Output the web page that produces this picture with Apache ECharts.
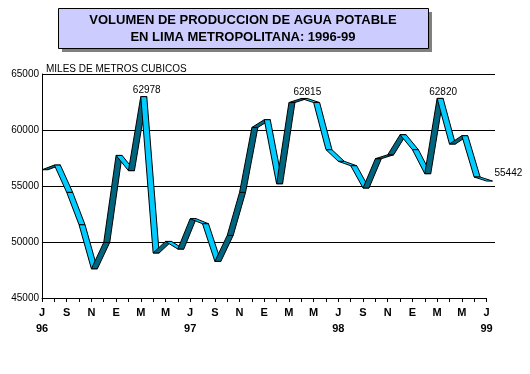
<!DOCTYPE html>
<html>
<head>
<meta charset="utf-8">
<script src="https://cdn.jsdelivr.net/npm/echarts@6/dist/echarts.min.js"></script>
<style>
  html, body { margin: 0; padding: 0; background: #fff; }
  #chart { width: 530px; height: 374px; }
</style>
</head>
<body>
<div id="chart"></div>
<script>
// ---- data ----
const months = ['J','A','S','O','N','D','E','F','M','A','M','J',
                'J','A','S','O','N','D','E','F','M','A','M','J',
                'J','A','S','O','N','D','E','F','M','A','M','J','J'];
const yearLabels = ['96','97','98','99'];
const values = [56450, 56870, 54430, 51540, 47610, 49960, 57730, 56370, 62978, 49020,
                50050, 49370, 52080, 51630, 48270, 50590, 54430, 60230, 60920, 55200,
                62450, 62815, 62450, 58240, 57200, 56810, 54820, 57440, 57790, 59580,
                58240, 56100, 62820, 58750, 59490, 55800, 55442];
const labeledIdx = [8, 21, 32, 36];
const yTicks = [45000, 50000, 55000, 60000, 65000];
const titleLines = ['VOLUMEN DE PRODUCCION DE AGUA POTABLE', 'EN LIMA METROPOLITANA: 1996-99'];
const unitText = 'MILES DE METROS CUBICOS';

// ---- styling ----
const FONT = '"Liberation Sans", Arial, sans-serif';
const DEPTH = 6;
const CYAN = '#00ccff';
const DARK = '#006680';

const segData = values.map((v, i) => [i, v, i + 1 < values.length ? values[i + 1] : null]);

const chart = echarts.init(document.getElementById('chart'), null, { renderer: 'canvas' });

function renderItem(params, api) {
  const i = api.value(0);
  const v0 = api.value(1);
  const v1 = api.value(2);
  const children = [];
  const p0 = api.coord([i, v0]);
  if (v1 != null && !isNaN(v1)) {
    const p1 = api.coord([i + 1, v1]);
    const pts = [p0, p1, [p1[0] + DEPTH, p1[1]], [p0[0] + DEPTH, p0[1]]];
    const cross = -(p1[1] - p0[1]) * DEPTH;
    children.push({
      type: 'polygon',
      shape: { points: pts },
      style: { fill: cross < 0 ? CYAN : DARK, stroke: '#000', lineWidth: 1 }
    });
  }
  if (labeledIdx.indexOf(i) >= 0) {
    const last = i === values.length - 1;
    children.push({
      type: 'text',
      x: last ? p0[0] + DEPTH + 2 : p0[0] + DEPTH / 2 + 3,
      y: last ? p0[1] - 3 : p0[1] - 1,
      style: {
        text: String(v0),
        fill: '#000',
        font: '10px ' + FONT,
        textAlign: last ? 'left' : 'center',
        textVerticalAlign: 'bottom'
      },
      z2: 10
    });
  }
  return { type: 'group', children: children };
}

const option = {
  animation: false,
  backgroundColor: '#fff',
  grid: [
    { left: 42, top: 74, right: 35, bottom: 76, containLabel: false },
    { left: 42, top: 74, right: 43.5, bottom: 76, containLabel: false }
  ],
  xAxis: [
    { gridIndex: 0, type: 'value', min: 0, max: 1, show: false },
    {
      gridIndex: 1, type: 'category', data: months, boundaryGap: false,
      axisLine: { show: true, lineStyle: { color: '#000', width: 1 } },
      axisTick: { show: true, interval: 0, length: 4, inside: false, lineStyle: { color: '#000' } },
      axisLabel: {
        interval: 1, margin: 7, color: '#000', fontFamily: FONT, fontSize: 11, fontWeight: 'bold',
        lineHeight: 16,
        formatter: function (val, idx) {
          return idx % 12 === 0 ? val + '\n' + yearLabels[idx / 12] : val;
        }
      },
      splitLine: { show: false }
    }
  ],
  yAxis: [
    {
      gridIndex: 0, type: 'value', min: yTicks[0], max: yTicks[yTicks.length - 1], interval: 5000,
      axisLine: { show: true, lineStyle: { color: '#000', width: 1 } },
      axisTick: { show: false },
      axisLabel: { color: '#000', fontFamily: FONT, fontSize: 10, margin: 3,
                   formatter: function (v) { return String(v); } },
      splitLine: { show: true, showMinLine: false, lineStyle: { color: '#000', width: 1 } }
    },
    {
      gridIndex: 1, type: 'value', min: yTicks[0], max: yTicks[yTicks.length - 1], interval: 5000,
      show: false
    }
  ],
  series: [{
    type: 'custom',
    xAxisIndex: 1,
    yAxisIndex: 1,
    renderItem: renderItem,
    encode: { x: 0, y: 1 },
    data: segData,
    clip: false
  }],
  graphic: [
    { type: 'rect', left: 62, top: 12, shape: { width: 370, height: 40 }, style: { fill: '#808080' }, z: 1 },
    { type: 'rect', left: 58, top: 8, shape: { width: 370, height: 40 }, style: { fill: '#ccccff', stroke: '#000', lineWidth: 1 }, z: 2 },
    { type: 'text', x: 243, y: 20, style: { text: titleLines[0], fill: '#000', font: 'bold 13px ' + FONT, textAlign: 'center', textVerticalAlign: 'middle' }, z: 3 },
    { type: 'text', x: 243, y: 37, style: { text: titleLines[1], fill: '#000', font: 'bold 13px ' + FONT, textAlign: 'center', textVerticalAlign: 'middle' }, z: 3 },
    { type: 'text', x: 46, y: 69, style: { text: unitText, fill: '#000', font: '10px ' + FONT, textAlign: 'left', textVerticalAlign: 'middle' }, z: 3 }
  ]
};
chart.setOption(option);
</script>
</body>
</html>
